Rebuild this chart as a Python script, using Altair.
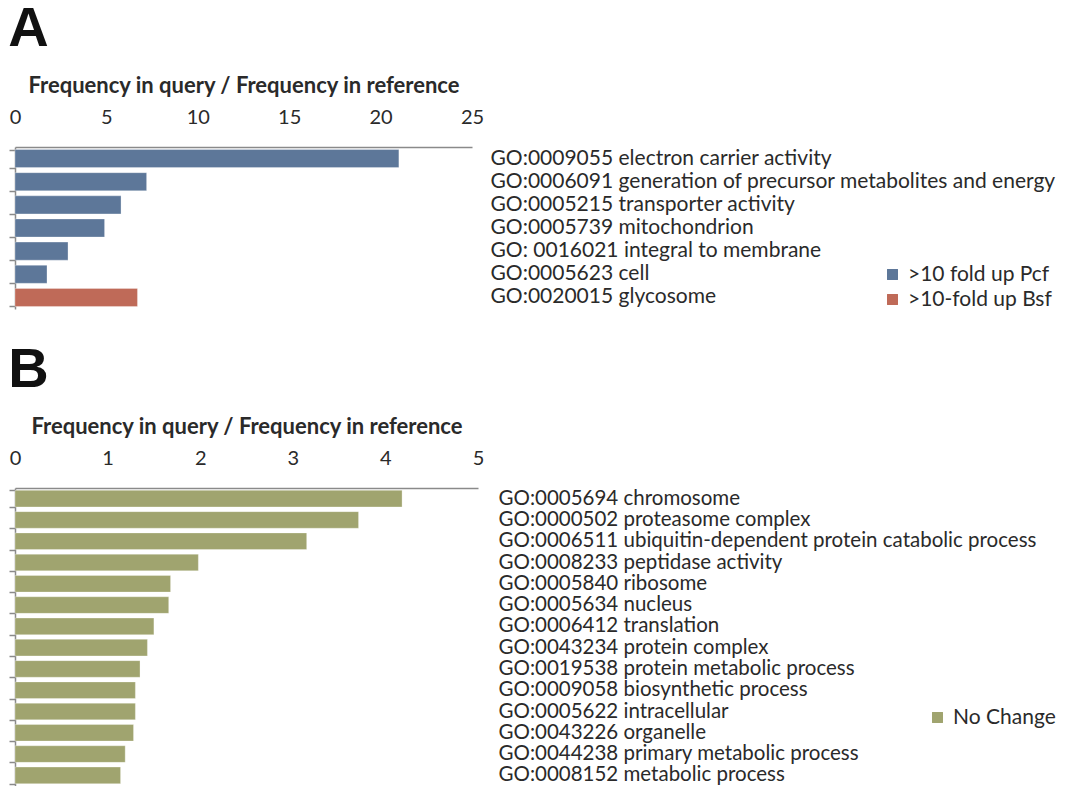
import altair as alt
import pandas as pd

# ---- data ----
a_terms = [
    "GO:0009055 electron carrier activity",
    "GO:0006091 generation of precursor metabolites and energy",
    "GO:0005215 transporter activity",
    "GO:0005739 mitochondrion",
    "GO: 0016021 integral to membrane",
    "GO:0005623 cell",
    "GO:0020015 glycosome",
]
a_values = [21.0, 7.2, 5.8, 4.9, 2.9, 1.75, 6.7]
a_groups = [">10 fold up Pcf"] * 6 + [">10-fold up Bsf"]
a_legend = [">10 fold up Pcf", ">10-fold up Bsf"]
a_colors = ["#5d7799", "#bf6a58"]
a_ticks = [0, 5, 10, 15, 20, 25]

b_terms = [
    "GO:0005694 chromosome",
    "GO:0000502 proteasome complex",
    "GO:0006511 ubiquitin-dependent protein catabolic process",
    "GO:0008233 peptidase activity",
    "GO:0005840 ribosome",
    "GO:0005634 nucleus",
    "GO:0006412 translation",
    "GO:0043234 protein complex",
    "GO:0019538 protein metabolic process",
    "GO:0009058 biosynthetic process",
    "GO:0005622 intracellular",
    "GO:0043226 organelle",
    "GO:0044238 primary metabolic process",
    "GO:0008152 metabolic process",
]
b_values = [4.18, 3.71, 3.15, 1.98, 1.68, 1.66, 1.50, 1.43, 1.35, 1.30, 1.30, 1.28, 1.19, 1.14]
b_groups = ["No Change"] * 14
b_legend = ["No Change"]
b_colors = ["#a0a46f"]
b_ticks = [0, 1, 2, 3, 4, 5]

FONT = "Lato"
TXT = "#2a2a2a"
AXC = "#8a8a8a"


def panel(letter, terms, values, groups, legend_dom, colors, ticks, w, h, lx, ly, lpad, lbl):
    df = pd.DataFrame({"term": terms, "value": values, "group": groups})
    xscale = alt.Scale(domain=[ticks[0], ticks[-1]], nice=False)
    yscale = alt.Scale(paddingInner=0.22, paddingOuter=0.11)
    xaxis = alt.Axis(
        orient="top", values=ticks, grid=False, ticks=False,
        title="Frequency in query / Frequency in reference",
        titleFont=FONT, titleFontSize=22, titleFontWeight="bold", titleColor=TXT,
        titlePadding=10,
        labelFont=FONT, labelFontSize=20, labelColor=TXT, labelPadding=20,
        labelFlush=False, labelOverlap=False,
        domainColor=AXC, domainWidth=1.5,
    )
    base = alt.Chart(df)
    bars = base.mark_bar(stroke="#ffffff", strokeWidth=0.6, strokeOpacity=0.5).encode(
        x=alt.X("value:Q", scale=xscale, axis=xaxis),
        y=alt.Y(
            "term:N", sort=terms, scale=yscale,
            axis=alt.Axis(
                orient="left", labels=False, title=None, tickBand="extent",
                tickSize=6, tickColor=AXC, tickWidth=1.5, domainColor=AXC, domainWidth=1.5,
            ),
        ),
        color=alt.Color(
            "group:N",
            scale=alt.Scale(domain=legend_dom, range=colors),
            legend=alt.Legend(
                orient="none", legendX=lx, legendY=ly, title=None,
                symbolType="square", symbolSize=120, symbolStrokeWidth=0,
                labelFont=FONT, labelFontSize=21, labelColor=TXT,
                rowPadding=3, labelOffset=5, padding=0,
            ),
        ),
    )
    labels = base.mark_bar(opacity=0).encode(
        x=alt.X("value:Q", scale=xscale, axis=xaxis),
        y=alt.Y(
            "term:N", sort=terms, scale=yscale,
            axis=alt.Axis(
                orient="right", domain=False, ticks=False, title=None,
                labelAlign="left", labelPadding=lpad, labelLimit=0,
                labelFont=FONT, labelFontSize=lbl, labelColor=TXT,
            ),
        ),
    )
    return (
        alt.layer(bars, labels)
        .resolve_scale(y="independent")
        .properties(
            width=w, height=h,
            title=alt.Title(letter, anchor="start", font="Liberation Sans",
                            fontSize=56, fontWeight="bold", color="#111111",
                            offset=16),
        )
    )


pa = panel("A", a_terms, a_values, a_groups, a_legend, a_colors, a_ticks, 457, 162, 867, 117, 18, 21)
pb = panel("B", b_terms, b_values, b_groups, b_legend, b_colors, b_ticks, 463, 298, 912, 219, 20, 20.5)

chart = (
    alt.vconcat(pa, pb, spacing=32)
    .resolve_scale(color="independent")
    .properties(padding={"top": -7, "left": 0, "right": 0, "bottom": 0})
    .configure(background="white")
    .configure_view(strokeOpacity=0, strokeWidth=0)
)

chart.save("out.html", embed_options={"renderer": "svg", "actions": False})
